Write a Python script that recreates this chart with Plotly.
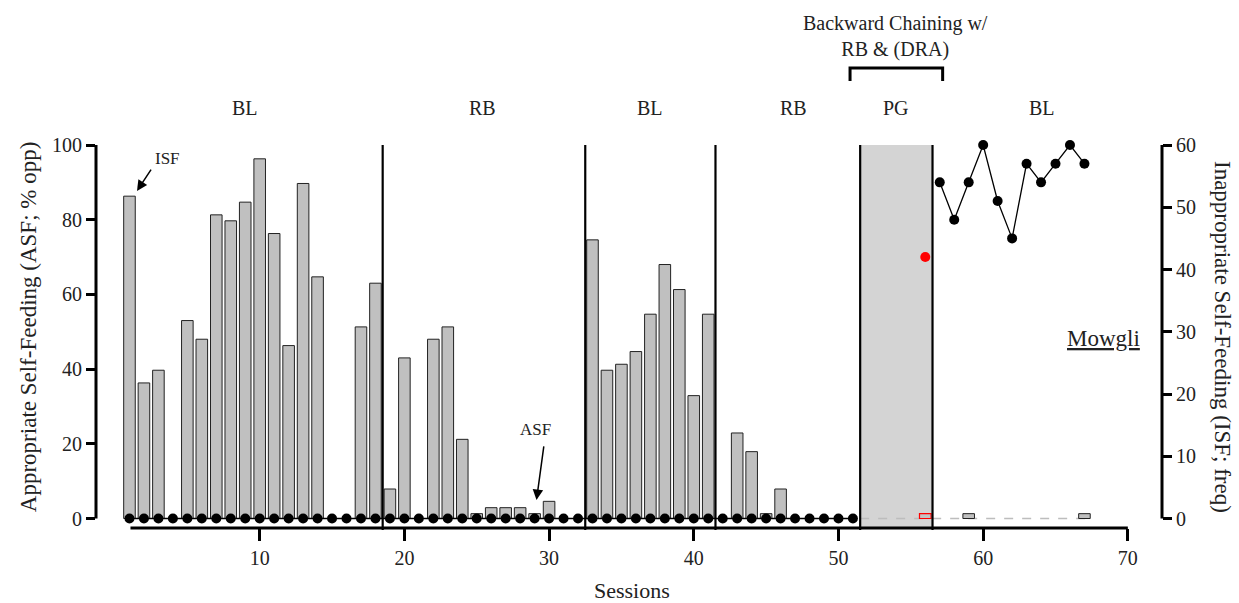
import plotly.graph_objects as go

# ---------------- data ----------------
sessions = list(range(1, 68))
asf_pct = [86.3, 36.3, 39.7, None, 53.0, 48.0, 81.3, 79.7, 84.7, 96.3,
           76.3, 46.3, 89.7, 64.7, None, None, 51.3, 63.0, 7.9, 43.0,
           None, 48.0, 51.3, 21.2, 1.3, 2.9, 2.9, 2.9, 1.3, 4.6,
           None, None, 74.6, 39.7, 41.3, 44.7, 54.7, 68.0, 61.3, 32.9,
           54.7, None, 22.9, 17.9, 1.3, 7.9, None, None, None, None,
           None, None, None, None, None, None, None, None, 1.3, None,
           None, None, None, None, None, None, 1.3]
pg_bar_session = [56]
pg_bar_value = [1.3]
isf_sessions = list(range(1, 52)) + [52, 53, 54, 55, 56] + list(range(57, 68))
isf_freq = [0, 0, 0, 0, 0, 0, 0, 0, 0, 0,
            0, 0, 0, 0, 0, 0, 0, 0, 0, 0,
            0, 0, 0, 0, 0, 0, 0, 0, 0, 0,
            0, 0, 0, 0, 0, 0, 0, 0, 0, 0,
            0, 0, 0, 0, 0, 0, 0, 0, 0, 0,
            0,
            None, None, None, None, None,
            54, 48, 54, 60, 51, 45, 57, 54, 57, 60, 57]
pg_isf_session = [56]
pg_isf_value = [42]
phase_changes = [18.5, 32.5, 41.5, 51.5, 56.5]
phase_labels = ["BL", "RB", "BL", "RB", "PG", "BL"]
phase_label_x = [9.0, 25.4, 37.0, 46.9, 54.0, 64.1]
x_ticks = [10, 20, 30, 40, 50, 60, 70]
y1_ticks = [0, 20, 40, 60, 80, 100]
y2_ticks = [0, 10, 20, 30, 40, 50, 60]

# ---------------- layout constants ----------------
XR = [-1.313, 72.36]
Y1R = [-2.54, 100]
Y2R = [-1.526, 60]
FONT = "Liberation Serif"
TXT = "#222222"

def px(s):
    return (s - XR[0]) / (XR[1] - XR[0])

fig = go.Figure()

fig.add_trace(go.Bar(x=sessions, y=asf_pct, width=0.8,
                     marker=dict(color="#c0c0c0", line=dict(color="#222222", width=1)),
                     yaxis="y", showlegend=False))
fig.add_trace(go.Bar(x=pg_bar_session, y=pg_bar_value, width=0.8,
                     marker=dict(color="#c4c4c4", line=dict(color="red", width=1.2)),
                     yaxis="y", showlegend=False))
fig.add_trace(go.Scatter(x=isf_sessions, y=isf_freq, mode="lines+markers",
                         line=dict(color="black", width=1.3),
                         marker=dict(color="black", size=10),
                         yaxis="y2", cliponaxis=False, showlegend=False,
                         connectgaps=False))
fig.add_trace(go.Scatter(x=pg_isf_session, y=pg_isf_value, mode="markers",
                         marker=dict(color="red", size=10),
                         yaxis="y2", cliponaxis=False, showlegend=False))

shapes = []
shapes.append(dict(type="rect", xref="x", yref="paper", x0=phase_changes[3], x1=phase_changes[4],
                   y0=0, y1=1, fillcolor="#d4d4d4", line=dict(width=0), layer="below"))
shapes.append(dict(type="line", xref="x", yref="y", x0=51.5, x1=67.5, y0=0, y1=0,
                   line=dict(color="#bdbdbd", width=1.3, dash="dash"), layer="below"))
for p in phase_changes:
    shapes.append(dict(type="line", xref="x", yref="paper", x0=p, x1=p, y0=-0.005, y1=1,
                       line=dict(color="black", width=2.2)))
shapes.append(dict(type="line", xref="x", yref="paper", x0=1.07, x1=70, y0=0, y1=0,
                   line=dict(color="black", width=3)))
shapes.append(dict(type="line", xref="paper", yref="y", x0=0, x1=0, y0=0, y1=100,
                   line=dict(color="black", width=3)))
shapes.append(dict(type="line", xref="paper", yref="y2", x0=1, x1=1, y0=0, y1=60,
                   line=dict(color="black", width=3)))
bx0, bx1 = px(50.8), px(57.2)
shapes.append(dict(type="path", xref="paper", yref="paper",
                   path=f"M {bx0},1.167 L {bx0},1.201 L {bx1},1.201 L {bx1},1.167",
                   line=dict(color="black", width=3)))

C = dict(xanchor="center", yanchor="middle", showarrow=False)
ann = []
for lab, xx in zip(phase_labels, phase_label_x):
    ann.append(dict(x=xx, y=1.0966, xref="x", yref="paper", text=lab,
                    font=dict(family=FONT, size=20, color=TXT), **C))
ann.append(dict(x=53.97, y=1.282, xref="x", yref="paper",
                text="Backward Chaining w/<br>RB & (DRA)",
                font=dict(family=FONT, size=20, color=TXT), **C))
ann.append(dict(x=3.66, y=96.3, xref="x", yref="y", text="ISF",
                font=dict(family=FONT, size=17, color=TXT), **C))
ann.append(dict(x=1.52, y=87.7, ax=2.56, ay=93.8, xref="x", yref="y", axref="x", ayref="y",
                text="", showarrow=True, arrowhead=2, arrowsize=1.4, arrowwidth=1.5,
                arrowcolor="black"))
ann.append(dict(x=29.03, y=23.96, xref="x", yref="y", text="ASF",
                font=dict(family=FONT, size=17, color=TXT), **C))
ann.append(dict(x=29.13, y=4.95, ax=29.65, ay=19.7, xref="x", yref="y", axref="x", ayref="y",
                text="", showarrow=True, arrowhead=2, arrowsize=1.4, arrowwidth=1.5,
                arrowcolor="black"))
ann.append(dict(x=0.9447, y=48.3, xref="paper", yref="y", text="<u>Mowgli</u>",
                font=dict(family=FONT, size=23, color=TXT), **C))
ann.append(dict(x=-0.0638, y=0.527, xref="paper", yref="paper",
                text="Appropriate Self-Feeding (ASF; % opp)", textangle=-90,
                font=dict(family=FONT, size=23, color=TXT), **C))
ann.append(dict(x=1.0563, y=0.4987, xref="paper", yref="paper",
                text="Inappropriate Self-Feeding (ISF; freq)", textangle=90,
                font=dict(family=FONT, size=23, color=TXT), **C))
ann.append(dict(x=0.503, y=-0.162, xref="paper", yref="paper", text="Sessions",
                font=dict(family=FONT, size=22, color=TXT), **C))

fig.update_layout(
    width=1239, height=603,
    margin=dict(l=96, r=77, t=145, b=75),
    paper_bgcolor="white", plot_bgcolor="white",
    barmode="overlay",
    shapes=shapes, annotations=ann,
    font=dict(family=FONT, size=20, color=TXT),
    xaxis=dict(range=XR, tickvals=x_ticks, ticks="outside", ticklen=12, tickwidth=2.5,
               tickcolor="black", showgrid=False, zeroline=False, showline=False,
               tickfont=dict(family=FONT, size=20, color=TXT)),
    yaxis=dict(range=Y1R, tickvals=y1_ticks, ticks="outside", ticklen=9, tickwidth=2.5,
               tickcolor="black", showgrid=False, zeroline=False, showline=False,
               tickfont=dict(family=FONT, size=20, color=TXT)),
    yaxis2=dict(range=Y2R, tickvals=y2_ticks, ticks="outside", ticklen=9, tickwidth=2.5,
                tickcolor="black", showgrid=False, zeroline=False, showline=False,
                overlaying="y", side="right",
                tickfont=dict(family=FONT, size=20, color=TXT)),
)

fig.write_html("out.html")
